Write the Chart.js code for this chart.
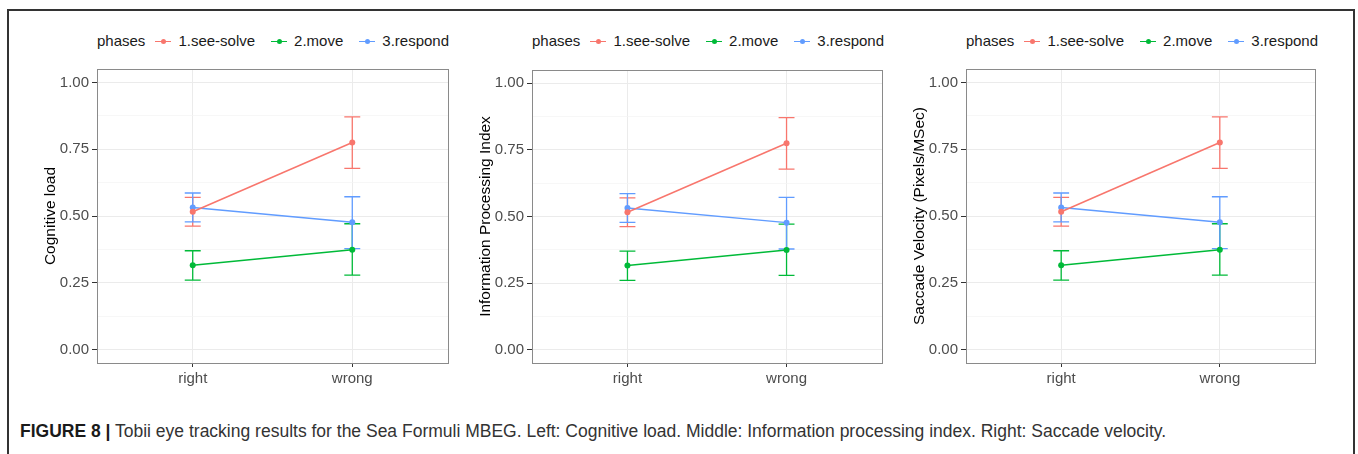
<!DOCTYPE html>
<html>
<head>
<meta charset="utf-8">
<script src="https://cdn.jsdelivr.net/npm/chart.js@4.4.1/dist/chart.umd.min.js"></script>
<style>
  body { margin: 0; background: #fff; width: 1358px; height: 454px; overflow: hidden; position: relative;
         font-family: "Liberation Sans", Arial, sans-serif; }
  .frame { position: absolute; left: 7px; top: 9px; width: 1344px; height: 460px; border: 2px solid #333; border-bottom: none; }
  canvas { position: absolute; }
  .legend { position: absolute; top: 32px; height: 18px; line-height: 18px; font-size: 15px; color: #1a1a1a;
            text-align: center; white-space: nowrap; }
  .legend .key { display: inline-block; position: relative; width: 16px; height: 18px; vertical-align: top; margin: 0 7px 0 10px; }
  .legend .key i { position: absolute; left: 0; right: 0; top: 8.5px; height: 1.3px; }
  .legend .key b { position: absolute; left: 5.5px; top: 6.5px; width: 5px; height: 5px; border-radius: 50%; }
  .legend .item { margin-right: 6px; }
  .caption { position: absolute; left: 20px; top: 421px; font-size: 17.5px; line-height: 20px; color: #333; white-space: nowrap; }
  .caption strong { color: #1a1a1a; }
</style>
</head>
<body>
<div class="frame"></div>
<div class="caption"><strong>FIGURE 8 |</strong> Tobii eye tracking results for the Sea Formuli MBEG. Left: Cognitive load. Middle: Information processing index. Right: Saccade velocity.</div>
<script>
// data (all three panels show the same values)
const categories = ['right', 'wrong'];
const xPos = [1, 2];
const seriesNames = ['1.see-solve', '2.move', '3.respond'];
const seriesColors = ['#F8766D', '#00BA38', '#619CFF'];

const seeSolveMean = [0.516, 0.775];
const seeSolveLow = [0.462, 0.678];
const seeSolveHigh = [0.570, 0.871];

const moveMean = [0.316, 0.374];
const moveLow = [0.260, 0.279];
const moveHigh = [0.370, 0.471];

const respondMean = [0.532, 0.477];
const respondLow = [0.478, 0.378];
const respondHigh = [0.586, 0.572];

const yMajorTicks = [0, 0.25, 0.5, 0.75, 1];
const yTickLabels = ['0.00', '0.25', '0.50', '0.75', '1.00'];
const yMinorTicks = [0.125, 0.375, 0.625, 0.875];

const yTitles = ['Cognitive load', 'Information Processing Index', 'Saccade Velocity (Pixels/MSec)'];

// layout of each panel on the page
const panels = [
  { left: 37, plotLeft: 97, plotRight: 449, top: 66 },
  { left: 472, plotLeft: 532, plotRight: 883, top: 67 },
  { left: 906, plotLeft: 966, plotRight: 1316, top: 66 }
];
const plotBottom = 363;
const yAxisWidth = 60;
const xAxisHeight = 30;

const means = [seeSolveMean, moveMean, respondMean];
const lows = [seeSolveLow, moveLow, respondLow];
const highs = [seeSolveHigh, moveHigh, respondHigh];

Chart.defaults.font.family = '"Liberation Sans", Arial, sans-serif';

const errorBars = {
  id: 'errorBars',
  beforeDatasetsDraw(chart) {
    const { ctx, scales: { x, y } } = chart;
    ctx.save();
    ctx.lineWidth = 1.3;
    lows.forEach((lo, i) => {
      ctx.strokeStyle = seriesColors[i];
      xPos.forEach((xv, j) => {
        const px = x.getPixelForValue(xv);
        const w = (x.getPixelForValue(xv + 0.05) - px);
        const yl = y.getPixelForValue(lo[j]);
        const yh = y.getPixelForValue(highs[i][j]);
        ctx.beginPath();
        ctx.moveTo(px, yl); ctx.lineTo(px, yh);
        ctx.moveTo(px - w, yl); ctx.lineTo(px + w, yl);
        ctx.moveTo(px - w, yh); ctx.lineTo(px + w, yh);
        ctx.stroke();
      });
    });
    ctx.restore();
  },
  afterDatasetsDraw(chart) {
    const { ctx, chartArea: a } = chart;
    ctx.save();
    ctx.strokeStyle = '#8a8a8a';
    ctx.lineWidth = 1;
    ctx.strokeRect(Math.round(a.left) + 0.5, Math.round(a.top) + 0.5, Math.round(a.right - a.left), Math.round(a.bottom - a.top));
    ctx.restore();
  }
};

function noPadding(s) {
  s.paddingTop = 0; s.paddingBottom = 0; s.paddingLeft = 0; s.paddingRight = 0;
}

panels.forEach((p, k) => {
  const canvas = document.createElement('canvas');
  const w = p.plotRight + 2 - p.left;
  const h = plotBottom + xAxisHeight - p.top;
  canvas.width = w; canvas.height = h;
  canvas.style.left = p.left + 'px';
  canvas.style.top = p.top + 'px';
  canvas.style.width = w + 'px';
  canvas.style.height = h + 'px';
  document.body.appendChild(canvas);

  // legend
  const lg = document.createElement('div');
  lg.className = 'legend';
  lg.style.left = p.plotLeft + 'px';
  lg.style.width = (p.plotRight - p.plotLeft) + 'px';
  let html = '<span>phases</span>';
  seriesNames.forEach((n, i) => {
    html += '<span class="key"><i style="background:' + seriesColors[i] + '"></i><b style="background:' +
      seriesColors[i] + '"></b></span><span class="item">' + n + '</span>';
  });
  lg.innerHTML = html;
  document.body.appendChild(lg);

  new Chart(canvas, {
    type: 'scatter',
    data: {
      datasets: seriesNames.map((n, i) => ({
        label: n,
        data: xPos.map((xv, j) => ({ x: xv, y: means[i][j] })),
        showLine: true,
        borderColor: seriesColors[i],
        backgroundColor: seriesColors[i],
        borderWidth: 1.5,
        pointRadius: 3,
        pointBorderWidth: 0,
        pointHoverRadius: 3
      }))
    },
    options: {
      responsive: false,
      animation: false,
      devicePixelRatio: 1,
      layout: { padding: { top: 2, right: 2, left: 0, bottom: 0 } },
      plugins: { legend: { display: false }, tooltip: { enabled: false } },
      scales: {
        x: {
          type: 'linear',
          min: 0.4, max: 2.6,
          afterBuildTicks: s => { s.ticks = xPos.map(v => ({ value: v })); },
          afterFit: s => { s.height = xAxisHeight; noPadding(s); },
          ticks: {
            callback: v => categories[xPos.indexOf(v)],
            color: '#4D4D4D', font: { size: 15 }, padding: 3, maxRotation: 0, autoSkip: false
          },
          grid: { color: '#EBEBEB', lineWidth: 1, tickLength: 4, tickColor: '#333' },
          border: { display: false }
        },
        y: {
          min: -0.05, max: 1.05,
          afterBuildTicks: s => {
            s.ticks = yMajorTicks.concat(yMinorTicks).sort((a, b) => a - b).map(v => ({ value: v }));
          },
          afterFit: s => { s.width = yAxisWidth; noPadding(s); },
          ticks: {
            callback: v => { const i = yMajorTicks.indexOf(v); return i >= 0 ? yTickLabels[i] : ''; },
            color: '#4D4D4D', font: { size: 15 }, padding: 3, autoSkip: false
          },
          grid: {
            color: c => yMajorTicks.includes(c.tick.value) ? '#EBEBEB' : '#F4F4F4',
            lineWidth: c => yMajorTicks.includes(c.tick.value) ? 1 : 0.7,
            tickLength: 5,
            tickColor: c => yMajorTicks.includes(c.tick.value) ? '#333' : 'rgba(0,0,0,0)'
          },
          border: { display: false },
          title: { display: true, text: yTitles[k], color: '#000', font: { size: 15.5 }, padding: { top: 4, bottom: 4 } }
        }
      }
    },
    plugins: [errorBars]
  });
});
</script>
</body>
</html>
